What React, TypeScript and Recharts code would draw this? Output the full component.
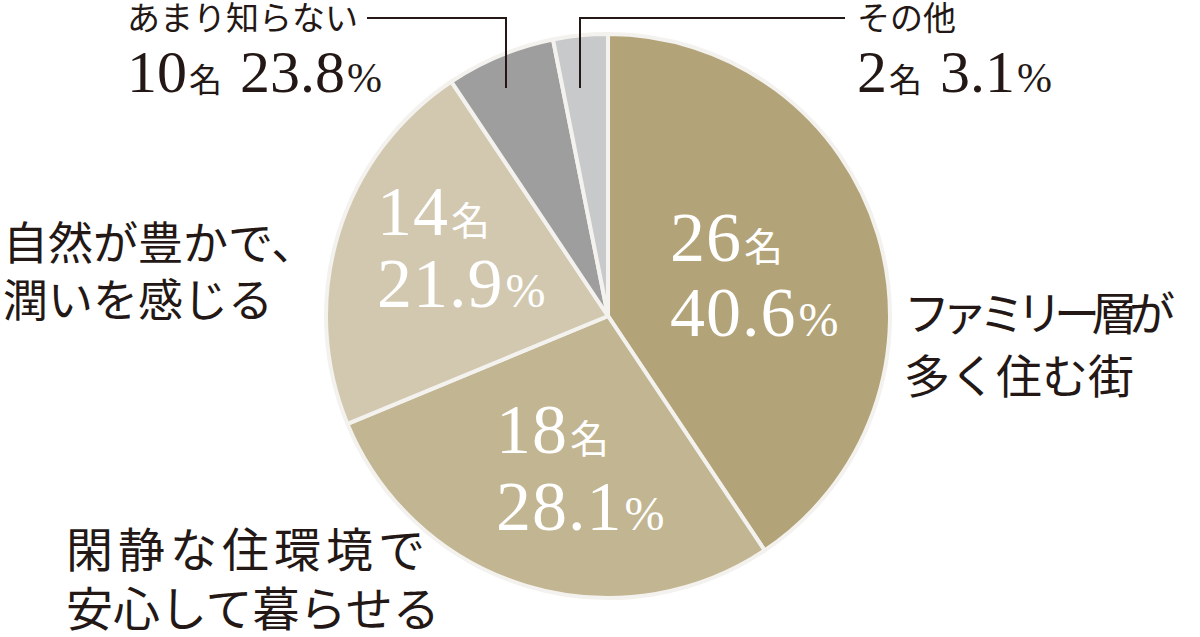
import React from "react";
import { PieChart, Pie, Cell } from "recharts";

const categories = [
  "ファミリー層が多く住む街",
  "閑静な住環境で安心して暮らせる",
  "自然が豊かで、潤いを感じる",
  "あまり知らない",
  "その他",
];
const values = [26, 18, 14, 4, 2];
const countLabels = ["26", "18", "14", "10", "2"];
const percentLabels = ["40.6", "28.1", "21.9", "23.8", "3.1"];
const categoryLines = [
  ["ファミリー層が", "多く住む街"],
  ["閑静な住環境で", "安心して暮らせる"],
  ["自然が豊かで、", "潤いを感じる"],
  ["あまり知らない"],
  ["その他"],
];
const colors = ["#b3a378", "#c2b592", "#d2c8b0", "#9d9e9d", "#c8c9ca"];

const data = values.map((v, i) => ({ name: categories[i], value: v }));

const SERIF = "'Liberation Serif', 'Noto Sans CJK JP', serif";
const JP = "'Noto Sans CJK JP', sans-serif";
const DARK = "#231815";

if (typeof document !== "undefined") {
  document.body.style.margin = "0";
}

// layout (style only), offsets relative to pie centre
const innerLayout: Record<number, { dx: number; y1: number; y2: number }> = {
  0: { dx: 62, y1: -55, y2: 20 },
  1: { dx: -112, y1: 137, y2: 214 },
  2: { dx: -231, y1: -81, y2: -9 },
};
const outerLayout: Record<
  number,
  { dx: number; ys: number[]; fs: number; ls: number[] }
> = {
  0: { dx: 296, ys: [14, 77], fs: 46, ls: [-8.5, 0] },
  1: { dx: -542, ys: [251, 310], fs: 47, ls: [5, 0] },
  2: { dx: -605, ys: [-56, 1], fs: 45, ls: [0, 0] },
};
const smallLayout: Record<
  number,
  { dx: number; lineX: number; textEdge: number }
> = {
  3: { dx: -481, lineX: -102, textEdge: -241 },
  4: { dx: 249, lineX: -28, textEdge: 237 },
};

function renderLabel(props: any) {
  const { cx, cy, index } = props;
  const i = index as number;
  if (innerLayout[i]) {
    const L = innerLayout[i];
    const O = outerLayout[i];
    return (
      <g key={`lbl-${i}`}>
        <text x={cx + L.dx} y={cy + L.y1} fill="#ffffff" fontFamily={SERIF} fontSize={70} letterSpacing={1}>
          {countLabels[i]}
          <tspan fontSize={39} fontFamily={JP} dx={2}>名</tspan>
        </text>
        <text x={cx + L.dx} y={cy + L.y2} fill="#ffffff" fontFamily={SERIF} fontSize={70} letterSpacing={1}>
          {percentLabels[i]}
          <tspan fontSize={48} dx={2}>%</tspan>
        </text>
        {categoryLines[i].map((line, k) => (
          <text
            key={k}
            x={cx + O.dx}
            y={cy + O.ys[k]}
            fill={DARK}
            fontFamily={JP}
            fontSize={O.fs}
            letterSpacing={O.ls[k]}
          >
            {line}
          </text>
        ))}
      </g>
    );
  }
  const S = smallLayout[i];
  const lineY = cy - 298;
  const endY = cy - 228;
  return (
    <g key={`lbl-${i}`}>
      <polyline
        points={`${cx + S.textEdge},${lineY} ${cx + S.lineX},${lineY} ${cx + S.lineX},${endY}`}
        fill="none"
        stroke={DARK}
        strokeWidth={2}
      />
      <text x={cx + S.dx} y={cy - 286} fill={DARK} fontFamily={JP} fontSize={33}>
        {categoryLines[i][0]}
      </text>
      <text x={cx + S.dx} y={cy - 224} fill={DARK} fontFamily={SERIF} fontSize={60}>
        {countLabels[i]}
        <tspan fontSize={33} fontFamily={JP} dx={2}>名</tspan>
        <tspan dx={18}>{percentLabels[i]}</tspan>
        <tspan fontSize={42} dx={2}>%</tspan>
      </text>
    </g>
  );
}

export default function App() {
  return (
    <div
      style={{
        position: "absolute",
        left: 0,
        top: 0,
        width: 1200,
        height: 637,
        background: "#ffffff",
      }}
    >
      <PieChart
        width={1200}
        height={637}
        margin={{ top: 0, right: 0, bottom: 0, left: 0 }}
      >
        <Pie
          data={data}
          dataKey="value"
          nameKey="name"
          cx={608}
          cy={316}
          outerRadius={282}
          startAngle={90}
          endAngle={-270}
          stroke="#f4f2ee"
          strokeWidth={4}
          isAnimationActive={false}
          labelLine={false}
          label={renderLabel}
        >
          {data.map((d, i) => (
            <Cell key={d.name} fill={colors[i]} />
          ))}
        </Pie>
      </PieChart>
    </div>
  );
}
